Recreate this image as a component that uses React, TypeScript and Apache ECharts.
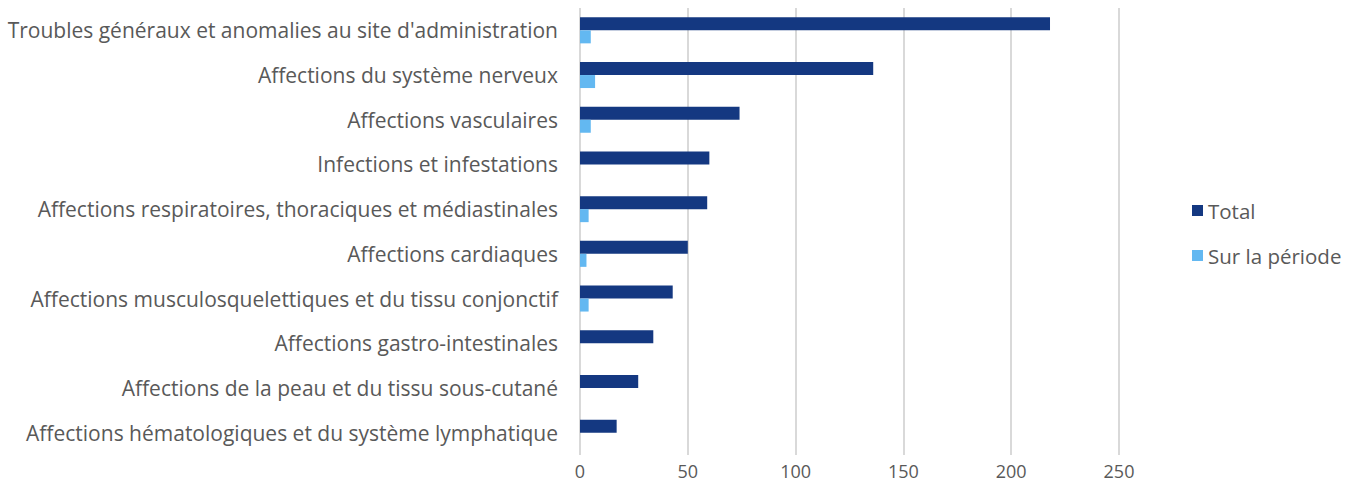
import React, { useEffect, useRef } from "react";
import * as echarts from "echarts";

const categories = [
  "Troubles généraux et anomalies au site d'administration",
  "Affections du système nerveux",
  "Affections vasculaires",
  "Infections et infestations",
  "Affections respiratoires, thoraciques et médiastinales",
  "Affections cardiaques",
  "Affections musculosquelettiques et du tissu conjonctif",
  "Affections gastro-intestinales",
  "Affections de la peau et du tissu sous-cutané",
  "Affections hématologiques et du système lymphatique",
];
const totalValues = [218, 136, 74, 60, 59, 50, 43, 34, 27, 17];
const periodValues = [5, 7, 5, null, 4, 3, 4, null, null, null];
const xTicks = [0, 50, 100, 150, 200, 250];

export default function App() {
  const ref = useRef<HTMLDivElement>(null);
  useEffect(() => {
    document.body.style.margin = "0";
    const chart = echarts.init(ref.current!, null, { renderer: "svg" });
    const font = "'Open Sans', 'Noto Sans', sans-serif";
    chart.setOption({
      animation: false,
      textStyle: { fontFamily: font },
      grid: { left: 580, right: 238, top: 8, bottom: 42, containLabel: false },
      legend: {
        orient: "vertical",
        left: 1187,
        top: 195,
        itemWidth: 11,
        itemHeight: 11,
        itemGap: 24,
        icon: "rect",
        textStyle: { color: "#595959", fontSize: 20.5, fontFamily: font },
        data: ["Total", "Sur la période"],
      },
      xAxis: {
        type: "value",
        min: xTicks[0],
        max: xTicks[xTicks.length - 1],
        interval: 50,
        axisLine: { show: false },
        axisTick: { show: false },
        axisLabel: { color: "#595959", fontSize: 18, margin: 7, fontFamily: font },
        splitLine: { lineStyle: { color: "#d9d9d9", width: 2 } },
      },
      yAxis: {
        type: "category",
        inverse: true,
        data: categories,
        axisLine: { show: false },
        axisTick: { show: false },
        axisLabel: { color: "#595959", fontSize: 21, margin: 22, fontFamily: font },
      },
      series: [
        {
          name: "Total",
          type: "bar",
          data: totalValues,
          barWidth: 13,
          barGap: "0%",
          itemStyle: { color: "#143881" },
        },
        {
          name: "Sur la période",
          type: "bar",
          data: periodValues,
          barWidth: 13,
          barGap: "0%",
          itemStyle: { color: "#63b8f1" },
        },
      ],
    });
    return () => chart.dispose();
  }, []);
  return <div ref={ref} style={{ width: 1357, height: 497 }} />;
}
